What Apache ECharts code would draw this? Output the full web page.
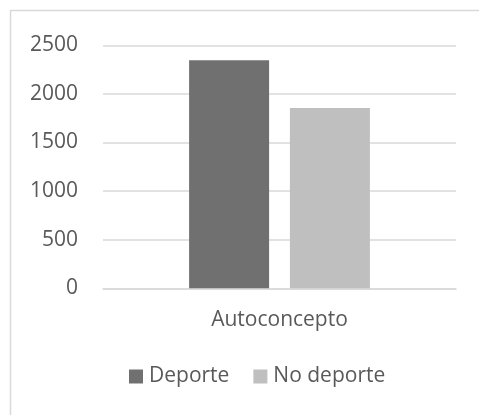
<!DOCTYPE html>
<html>
<head>
<meta charset="utf-8">
<script src="https://cdn.jsdelivr.net/npm/echarts@6/dist/echarts.min.js"></script>
<style>
    html, body { margin: 0; padding: 0; background: #fff; }
    #chart { width: 479px; height: 415px; }
</style>
</head>
<body>
<div id="chart"></div>
<script>
// data
const categories = ['Autoconcepto']
const deporte = [2347]
const noDeporte = [1855]
const seriesNames = ['Deporte', 'No deporte']

const textColor = '#595959'
const font = '"Open Sans", sans-serif'
const fontSize = 21

const chart = echarts.init(document.getElementById('chart'), null, {renderer: 'canvas'})

chart.setOption({
    animation: false,
    textStyle: {fontFamily: font},
    // chart area border (only top and left are visible in the crop)
    graphic: [{
        type: 'polyline',
        shape: {points: [[10.5, 420], [10.5, 10.5], [480, 10.5]]},
        style: {fill: null, stroke: '#d9d9d9', lineWidth: 1.5},
        silent: true
    }],
    grid: {
        left: 103,
        right: 23,
        top: 45.3,
        bottom: 126.7,
        containLabel: false
    },
    legend: {
        left: 129,
        top: 366,
        padding: 0,
        itemWidth: 14,
        itemHeight: 14,
        itemGap: 24,
        icon: 'rect',
        textStyle: {color: textColor, fontSize: fontSize, fontFamily: font, padding: [0, 0, 0, 1]},
        data: seriesNames
    },
    xAxis: {
        type: 'category',
        data: categories,
        axisLine: {show: true, lineStyle: {color: '#d9d9d9', width: 1.5}},
        axisTick: {show: false},
        axisLabel: {color: textColor, fontSize: fontSize, fontFamily: font, margin: 21}
    },
    yAxis: {
        type: 'value',
        min: 0,
        max: 2500,
        interval: 500,
        axisLine: {show: false},
        axisTick: {show: false},
        splitLine: {lineStyle: {color: '#d9d9d9', width: 1.5}},
        axisLabel: {color: textColor, fontSize: fontSize, fontFamily: font, margin: 25, formatter: v => String(v)}
    },
    series: [{
        name: seriesNames[0],
        type: 'bar',
        data: deporte,
        barWidth: 80,
        barGap: '26%',
        itemStyle: {color: '#707070'}
    }, {
        name: seriesNames[1],
        type: 'bar',
        data: noDeporte,
        barWidth: 80,
        itemStyle: {color: '#bfbfbf'}
    }]
})
</script>
</body>
</html>
